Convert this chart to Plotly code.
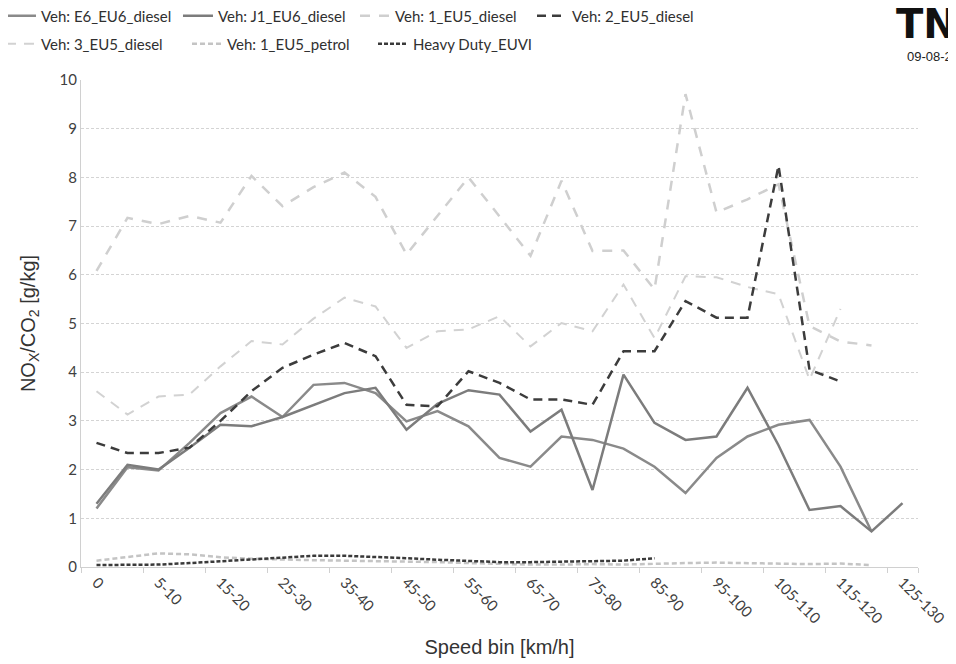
import plotly.graph_objects as go

categories = ["0", "0-5", "5-10", "10-15", "15-20", "20-25", "25-30", "30-35", "35-40",
              "40-45", "45-50", "50-55", "55-60", "60-65", "65-70", "70-75", "75-80",
              "80-85", "85-90", "90-95", "95-100", "100-105", "105-110", "110-115",
              "115-120", "120-125", "125-130"]
tick_labels = categories[::2]

e6_eu6_diesel = [1.2, 2.05, 1.98, 2.55, 3.16, 3.5, 3.08, 3.74, 3.78, 3.57, 2.99, 3.2, 2.89,
                 2.24, 2.06, 2.68, 2.61, 2.43, 2.06, 1.52, 2.24, 2.68, 2.92, 3.02, 2.06, 0.73, None]
j1_eu6_diesel = [1.3, 2.1, 2.0, 2.45, 2.92, 2.89, 3.08, 3.33, 3.57, 3.68, 2.82, 3.35, 3.63,
                 3.54, 2.78, 3.23, 1.58, 3.95, 2.96, 2.61, 2.68, 3.68, 2.5, 1.17, 1.25, 0.73, 1.31]
v1_eu5_diesel = [6.08, 7.17, 7.04, 7.21, 7.07, 8.03, 7.41, 7.8, 8.1, 7.6, 6.42, 7.2, 8.0,
                 7.2, 6.39, 7.93, 6.49, 6.5, 5.7, 9.71, 7.28, 7.55, 7.86, 4.95, 4.63, 4.55, None]
v2_eu5_diesel = [2.55, 2.34, 2.34, 2.45, 3.0, 3.61, 4.09, 4.36, 4.6, 4.33, 3.33, 3.3, 4.02,
                 3.78, 3.44, 3.44, 3.33, 4.43, 4.43, 5.46, 5.12, 5.12, 8.24, 4.05, 3.81, None, None]
v3_eu5_diesel = [3.61, 3.13, 3.5, 3.54, 4.12, 4.64, 4.57, 5.1, 5.53, 5.35, 4.5, 4.84, 4.88,
                 5.15, 4.53, 5.01, 4.84, 5.8, 4.7, 5.97, 5.95, 5.75, 5.6, 3.85, 5.3, None, None]
v1_eu5_petrol = [0.13, 0.2, 0.28, 0.26, 0.2, 0.17, 0.15, 0.14, 0.13, 0.12, 0.12, 0.1, 0.08,
                 0.06, 0.05, 0.05, 0.06, 0.05, 0.07, 0.08, 0.09, 0.08, 0.07, 0.06, 0.07, 0.04, None]
heavy_duty_euvi = [0.04, 0.04, 0.05, 0.08, 0.12, 0.16, 0.2, 0.23, 0.23, 0.21, 0.18, 0.15, 0.12,
                   0.1, 0.1, 0.11, 0.13, 0.13, 0.18, None, None, None, None, None, None, None, None]

series = [
    ("Veh: E6_EU6_diesel", e6_eu6_diesel, "#8a8a8a", 2.5, "solid", "legend"),
    ("Veh: J1_EU6_diesel", j1_eu6_diesel, "#7c7c7c", 2.5, "solid", "legend"),
    ("Veh: 1_EU5_diesel", v1_eu5_diesel, "#cfcfcf", 2.5, "10px,9px", "legend"),
    ("Veh: 2_EU5_diesel", v2_eu5_diesel, "#3c3c3c", 2.5, "9px,6px", "legend"),
    ("Veh: 3_EU5_diesel", v3_eu5_diesel, "#d2d2d2", 2.0, "10px,8px", "legend2"),
    ("Veh: 1_EU5_petrol", v1_eu5_petrol, "#c4c4c4", 2.5, "5px,3px", "legend2"),
    ("Heavy Duty_EUVI", heavy_duty_euvi, "#3a3a3a", 2.5, "4px,2px", "legend2"),
]

# draw order: light ones first, dark on top
order = [2, 4, 5, 0, 1, 3, 6]
fig = go.Figure()
for idx in order:
    name, vals, color, width, dash, leg = series[idx]
    fig.add_trace(go.Scatter(
        x=categories, y=vals, name=name, mode="lines",
        line=dict(color=color, width=width, dash=dash),
        legend=leg, connectgaps=False, legendrank=idx + 1,
    ))

legend_font = dict(family="Lato, Open Sans, sans-serif", size=15, color="#303030")
fig.update_layout(
    width=948, height=656,
    margin=dict(l=73, r=38, t=72, b=97, autoexpand=False),
    paper_bgcolor="white", plot_bgcolor="white",
    showlegend=True,
    legend=dict(orientation="h", x=-0.0956, xanchor="left", y=1.1314, yanchor="middle",
                font=legend_font, bgcolor="rgba(0,0,0,0)", traceorder="normal",
                itemwidth=30, entrywidth=132, entrywidthmode="pixels"),
    legend2=dict(orientation="h", x=-0.0956, xanchor="left", y=1.0739, yanchor="middle",
                 font=legend_font, bgcolor="rgba(0,0,0,0)", traceorder="normal",
                 itemwidth=30, entrywidth=141, entrywidthmode="pixels"),
    xaxis=dict(
        type="category", categoryorder="array", categoryarray=categories,
        range=[-0.5, len(categories) - 0.5],
        tickmode="array", tickvals=tick_labels, ticktext=tick_labels,
        tickangle=45, tickson="boundaries", ticks="outside", ticklen=5,
        tickcolor="#d0d0d0", showline=True, linecolor="#d0d0d0", linewidth=1,
        showgrid=False, zeroline=False, automargin=False,
        tickfont=dict(family="Lato, Open Sans, sans-serif", size=15, color="#404040"),
        title=dict(text="Speed bin [km/h]", standoff=14,
                   font=dict(family="Liberation Sans, Arial, sans-serif", size=20, color="#333333")),
    ),
    yaxis=dict(
        range=[0, 10], dtick=1, tick0=0, automargin=False,
        showgrid=True, gridcolor="#d4d4d4", griddash="3px,2px", gridwidth=1,
        showline=True, linecolor="#d0d0d0", linewidth=1, zeroline=False,
        ticks="", tickfont=dict(family="Lato, Open Sans, sans-serif", size=15, color="#404040"),
        title=dict(text="NO<sub>X</sub>/CO<sub>2</sub> [g/kg]", standoff=18,
                   font=dict(family="Liberation Sans, Arial, sans-serif", size=20, color="#333333")),
    ),
    annotations=[
        dict(text="<b>TNO</b>", xref="paper", yref="paper", x=0.971, y=1.115,
             xanchor="left", yanchor="middle", showarrow=False,
             font=dict(family="DejaVu Sans, sans-serif", size=40, color="#111111")),
        dict(text="09-08-2", xref="paper", yref="paper", x=0.9845, y=1.049,
             xanchor="left", yanchor="middle", showarrow=False,
             font=dict(family="Liberation Sans, Arial, sans-serif", size=13, color="#222222")),
    ],
)

fig.write_html("out.html")
